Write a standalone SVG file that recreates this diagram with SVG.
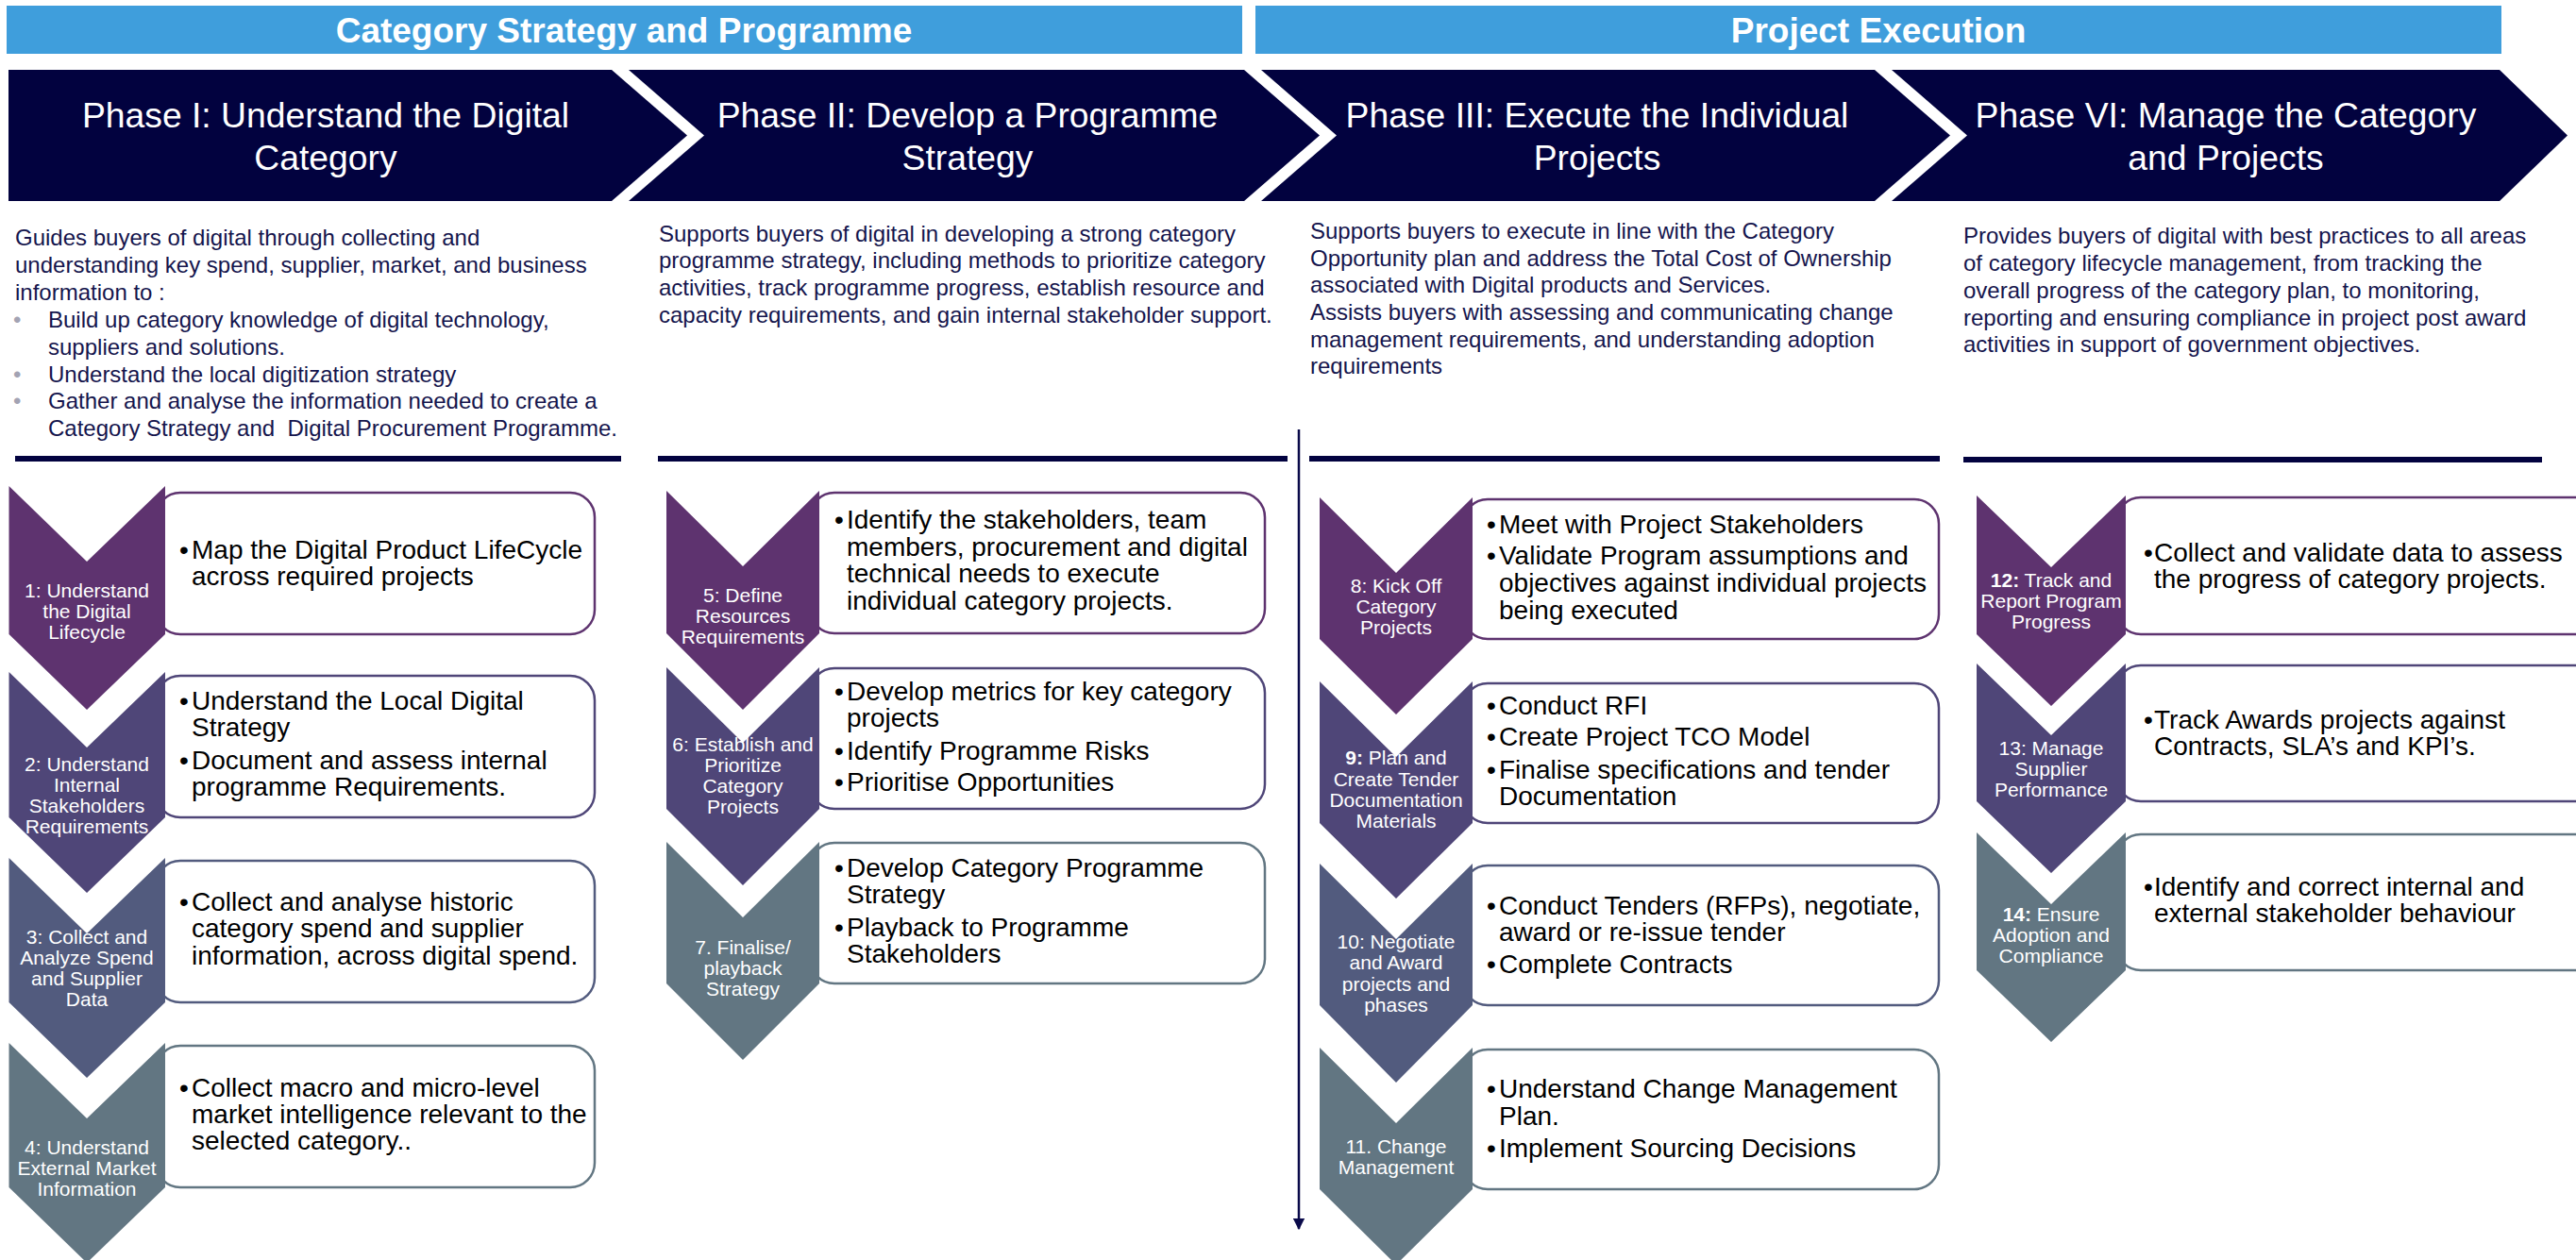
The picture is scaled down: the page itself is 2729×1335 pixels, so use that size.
<svg xmlns="http://www.w3.org/2000/svg" width="2729" height="1335" viewBox="0 0 2729 1335">
  <defs>
    <style>
      text { font-family: "Liberation Sans", Arial, sans-serif; }
      .band { fill: #3f9edc; }
      .band-t { fill: #ffffff; font-size: 37px; font-weight: bold; text-anchor: middle; }
      .phase { fill: #02023f; }
      .phase-t { fill: #ffffff; font-size: 37.3px; text-anchor: middle; }
      .desc { fill: #15154d; font-size: 24px; }
      .dot { fill: #a3a3b3; font-size: 24px; }
      .rule { fill: #02023f; }
      .lbl { fill: #ffffff; font-size: 21px; text-anchor: middle; }
      .bold { font-weight: bold; }
      .bx { fill: #000000; font-size: 28px; }
      .box { fill: #ffffff; stroke-width: 2.5; }
      .f1 { fill: #5e336f; } .s1 { stroke: #5e336f; }
      .f2 { fill: #4f4678; } .s2 { stroke: #4f4678; }
      .f3 { fill: #525b7e; } .s3 { stroke: #525b7e; }
      .f4 { fill: #627682; } .s4 { stroke: #627682; }
      .flow { stroke: #0a0a4a; stroke-width: 2.5; fill: none; }
    </style>
    <marker id="arrow" viewBox="0 0 10 10" refX="9" refY="5" markerWidth="5" markerHeight="5" orient="auto" markerUnits="strokeWidth">
      <path d="M0,0 L10,5 L0,10 Z" fill="#0a0a4a"/>
    </marker>
  </defs>

  <rect width="2729" height="1335" fill="#ffffff"/>

  <!-- Top bands -->
  <g id="band-strategy">
    <rect class="band" x="7" y="6" width="1309" height="51"/>
    <text class="band-t" x="661" y="45">Category Strategy and Programme</text>
  </g>
  <g id="band-execution">
    <rect class="band" x="1330" y="6" width="1320" height="51"/>
    <text class="band-t" x="1990" y="45">Project Execution</text>
  </g>

  <!-- Phase chevrons -->
  <g id="phase-1">
    <path class="phase" d="M9,74 L648,74 L728,143.5 L648,213 L9,213 Z"/>
    <text class="phase-t" x="345" y="135">Phase I: Understand the Digital</text>
    <text class="phase-t" x="345" y="180">Category</text>
  </g>
  <g id="phase-2">
    <path class="phase" d="M666,74 L1318,74 L1398,143.5 L1318,213 L666,213 L746,143.5 Z"/>
    <text class="phase-t" x="1025" y="135">Phase II: Develop a Programme</text>
    <text class="phase-t" x="1025" y="180">Strategy</text>
  </g>
  <g id="phase-3">
    <path class="phase" d="M1336,74 L1986,74 L2066,143.5 L1986,213 L1336,213 L1416,143.5 Z"/>
    <text class="phase-t" x="1692" y="135">Phase III: Execute the Individual</text>
    <text class="phase-t" x="1692" y="180">Projects</text>
  </g>
  <g id="phase-4">
    <path class="phase" d="M2004,74 L2648,74 L2720,143.5 L2648,213 L2004,213 L2084,143.5 Z"/>
    <text class="phase-t" x="2358" y="135">Phase VI: Manage the Category</text>
    <text class="phase-t" x="2358" y="180">and Projects</text>
  </g>

  <!-- Phase descriptions -->
  <g id="desc-1">
    <text class="desc" x="16" y="260">Guides buyers of digital through collecting and</text>
    <text class="desc" x="16" y="289">understanding key spend, supplier, market, and business</text>
    <text class="desc" x="16" y="318">information to :</text>
    <text class="dot" x="14" y="347">•</text>
    <text class="desc" x="51" y="347">Build up category knowledge of digital technology,</text>
    <text class="desc" x="51" y="376">suppliers and solutions.</text>
    <text class="dot" x="14" y="405">•</text>
    <text class="desc" x="51" y="405">Understand the local digitization strategy</text>
    <text class="dot" x="14" y="433">•</text>
    <text class="desc" x="51" y="433">Gather and analyse the information needed to create a</text>
    <text class="desc" x="51" y="462" xml:space="preserve">Category Strategy and  Digital Procurement Programme.</text>
    <rect class="rule" x="16" y="483" width="642" height="6"/>
  </g>
  <g id="desc-2">
    <text class="desc" x="698" y="256">Supports buyers of digital in developing a strong category</text>
    <text class="desc" x="698" y="284">programme strategy, including methods to prioritize category</text>
    <text class="desc" x="698" y="313">activities, track programme progress, establish resource and</text>
    <text class="desc" x="698" y="342">capacity requirements, and gain internal stakeholder support.</text>
    <rect class="rule" x="697" y="483" width="667" height="6"/>
  </g>
  <g id="desc-3">
    <text class="desc" x="1388" y="253">Supports buyers to execute in line with the Category</text>
    <text class="desc" x="1388" y="282">Opportunity plan and address the Total Cost of Ownership</text>
    <text class="desc" x="1388" y="310">associated with Digital products and Services.</text>
    <text class="desc" x="1388" y="339">Assists buyers with assessing and communicating change</text>
    <text class="desc" x="1388" y="368">management requirements, and understanding adoption</text>
    <text class="desc" x="1388" y="396">requirements</text>
    <rect class="rule" x="1387" y="483" width="668" height="6"/>
  </g>
  <g id="desc-4">
    <text class="desc" x="2080" y="258">Provides buyers of digital with best practices to all areas</text>
    <text class="desc" x="2080" y="287">of category lifecycle management, from tracking the</text>
    <text class="desc" x="2080" y="316">overall progress of the category plan, to monitoring,</text>
    <text class="desc" x="2080" y="345">reporting and ensuring compliance in project post award</text>
    <text class="desc" x="2080" y="373">activities in support of government objectives.</text>
    <rect class="rule" x="2080" y="484" width="613" height="6"/>
  </g>

  <!-- Connectors -->
  <g id="connectors">
    <line class="flow" x1="1376" y1="455" x2="1376" y2="1302" marker-end="url(#arrow)"/>
  </g>

  <!-- Column 1 steps -->
  <g id="step-1">
    <rect class="box s1" x="165" y="522" width="465" height="150" rx="26"/>
    <path class="f1" d="M9.5,515 L92,595 L175,515 L175,672 L92,752 L9.5,672 Z"/>
    <text class="lbl" x="92" y="633">1: Understand</text>
    <text class="lbl" x="92" y="655">the Digital</text>
    <text class="lbl" x="92" y="677">Lifecycle</text>
    <text class="bx" x="190" y="592">•</text>
    <text class="bx" x="203" y="592">Map the Digital Product LifeCycle</text>
    <text class="bx" x="203" y="620">across required projects</text>
  </g>
  <g id="step-2">
    <rect class="box s2" x="165" y="716" width="465" height="150" rx="26"/>
    <path class="f2" d="M9.5,712 L92,792 L175,712 L175,866 L92,946 L9.5,866 Z"/>
    <text class="lbl" x="92" y="817">2: Understand</text>
    <text class="lbl" x="92" y="839">Internal</text>
    <text class="lbl" x="92" y="861">Stakeholders</text>
    <text class="lbl" x="92" y="883">Requirements</text>
    <text class="bx" x="190" y="752">•</text>
    <text class="bx" x="203" y="752">Understand the Local Digital</text>
    <text class="bx" x="203" y="780">Strategy</text>
    <text class="bx" x="190" y="815">•</text>
    <text class="bx" x="203" y="815">Document and assess internal</text>
    <text class="bx" x="203" y="843">programme Requirements.</text>
  </g>
  <g id="step-3">
    <rect class="box s3" x="165" y="912" width="465" height="150" rx="26"/>
    <path class="f3" d="M9.5,909 L92,989 L175,909 L175,1062 L92,1142 L9.5,1062 Z"/>
    <text class="lbl" x="92" y="1000">3: Collect and</text>
    <text class="lbl" x="92" y="1022">Analyze Spend</text>
    <text class="lbl" x="92" y="1044">and Supplier</text>
    <text class="lbl" x="92" y="1066">Data</text>
    <text class="bx" x="190" y="965">•</text>
    <text class="bx" x="203" y="965">Collect and analyse historic</text>
    <text class="bx" x="203" y="993">category spend and supplier</text>
    <text class="bx" x="203" y="1022">information, across digital spend.</text>
  </g>
  <g id="step-4">
    <rect class="box s4" x="165" y="1108" width="465" height="150" rx="26"/>
    <path class="f4" d="M9.5,1105 L92,1185 L175,1105 L175,1258 L92,1338 L9.5,1258 Z"/>
    <text class="lbl" x="92" y="1223">4: Understand</text>
    <text class="lbl" x="92" y="1245">External Market</text>
    <text class="lbl" x="92" y="1267">Information</text>
    <text class="bx" x="190" y="1162">•</text>
    <text class="bx" x="203" y="1162">Collect macro and micro-level</text>
    <text class="bx" x="203" y="1190">market intelligence relevant to the</text>
    <text class="bx" x="203" y="1218">selected category..</text>
  </g>

  <!-- Column 2 steps -->
  <g id="step-5">
    <rect class="box s1" x="858" y="522" width="482" height="149" rx="26"/>
    <path class="f1" d="M706,520 L787,600 L868,520 L868,671 L787,752 L706,671 Z"/>
    <text class="lbl" x="787" y="638">5: Define</text>
    <text class="lbl" x="787" y="660">Resources</text>
    <text class="lbl" x="787" y="682">Requirements</text>
    <text class="bx" x="884" y="560">•</text>
    <text class="bx" x="897" y="560">Identify the stakeholders, team</text>
    <text class="bx" x="897" y="589">members, procurement and digital</text>
    <text class="bx" x="897" y="617">technical needs to execute</text>
    <text class="bx" x="897" y="646">individual category projects.</text>
  </g>
  <g id="step-6">
    <rect class="box s2" x="858" y="708" width="482" height="149" rx="26"/>
    <path class="f2" d="M706,707 L787,787 L868,707 L868,857 L787,938 L706,857 Z"/>
    <text class="lbl" x="787" y="796">6: Establish and</text>
    <text class="lbl" x="787" y="818">Prioritize</text>
    <text class="lbl" x="787" y="840">Category</text>
    <text class="lbl" x="787" y="862">Projects</text>
    <text class="bx" x="884" y="742">•</text>
    <text class="bx" x="897" y="742">Develop metrics for key category</text>
    <text class="bx" x="897" y="770">projects</text>
    <text class="bx" x="884" y="805">•</text>
    <text class="bx" x="897" y="805">Identify Programme Risks</text>
    <text class="bx" x="884" y="838">•</text>
    <text class="bx" x="897" y="838">Prioritise Opportunities</text>
  </g>
  <g id="step-7">
    <rect class="box s4" x="858" y="893" width="482" height="149" rx="26"/>
    <path class="f4" d="M706,892 L787,972 L868,892 L868,1042 L787,1123 L706,1042 Z"/>
    <text class="lbl" x="787" y="1011">7. Finalise/</text>
    <text class="lbl" x="787" y="1033">playback</text>
    <text class="lbl" x="787" y="1055">Strategy</text>
    <text class="bx" x="884" y="929">•</text>
    <text class="bx" x="897" y="929">Develop Category Programme</text>
    <text class="bx" x="897" y="957">Strategy</text>
    <text class="bx" x="884" y="992">•</text>
    <text class="bx" x="897" y="992">Playback to Programme</text>
    <text class="bx" x="897" y="1020">Stakeholders</text>
  </g>

  <!-- Column 3 steps -->
  <g id="step-8">
    <rect class="box s1" x="1550" y="529" width="504" height="148" rx="26"/>
    <path class="f1" d="M1398,527 L1479,607 L1560,527 L1560,677 L1479,757 L1398,677 Z"/>
    <text class="lbl" x="1479" y="628">8: Kick Off</text>
    <text class="lbl" x="1479" y="650">Category</text>
    <text class="lbl" x="1479" y="672">Projects</text>
    <text class="bx" x="1575" y="565">•</text>
    <text class="bx" x="1588" y="565">Meet with Project Stakeholders</text>
    <text class="bx" x="1575" y="598">•</text>
    <text class="bx" x="1588" y="598">Validate Program assumptions and</text>
    <text class="bx" x="1588" y="627">objectives against individual projects</text>
    <text class="bx" x="1588" y="656">being executed</text>
  </g>
  <g id="step-9">
    <rect class="box s2" x="1550" y="724" width="504" height="148" rx="26"/>
    <path class="f2" d="M1398,722 L1479,802 L1560,722 L1560,872 L1479,952 L1398,872 Z"/>
    <text class="lbl" x="1479" y="810"><tspan class="bold">9:</tspan> Plan and</text>
    <text class="lbl" x="1479" y="833">Create Tender</text>
    <text class="lbl" x="1479" y="855">Documentation</text>
    <text class="lbl" x="1479" y="877">Materials</text>
    <text class="bx" x="1575" y="757">•</text>
    <text class="bx" x="1588" y="757">Conduct RFI</text>
    <text class="bx" x="1575" y="790">•</text>
    <text class="bx" x="1588" y="790">Create Project TCO Model</text>
    <text class="bx" x="1575" y="825">•</text>
    <text class="bx" x="1588" y="825">Finalise specifications and tender</text>
    <text class="bx" x="1588" y="853">Documentation</text>
  </g>
  <g id="step-10">
    <rect class="box s3" x="1550" y="917" width="504" height="148" rx="26"/>
    <path class="f3" d="M1398,915 L1479,995 L1560,915 L1560,1065 L1479,1147 L1398,1065 Z"/>
    <text class="lbl" x="1479" y="1005">10: Negotiate</text>
    <text class="lbl" x="1479" y="1027">and Award</text>
    <text class="lbl" x="1479" y="1050">projects and</text>
    <text class="lbl" x="1479" y="1072">phases</text>
    <text class="bx" x="1575" y="969">•</text>
    <text class="bx" x="1588" y="969">Conduct Tenders (RFPs), negotiate,</text>
    <text class="bx" x="1588" y="997">award or re-issue tender</text>
    <text class="bx" x="1575" y="1031">•</text>
    <text class="bx" x="1588" y="1031">Complete Contracts</text>
  </g>
  <g id="step-11">
    <rect class="box s4" x="1550" y="1112" width="504" height="148" rx="26"/>
    <path class="f4" d="M1398,1110 L1479,1190 L1560,1110 L1560,1260 L1479,1340 L1398,1260 Z"/>
    <text class="lbl" x="1479" y="1222">11. Change</text>
    <text class="lbl" x="1479" y="1244">Management</text>
    <text class="bx" x="1575" y="1163">•</text>
    <text class="bx" x="1588" y="1163">Understand Change Management</text>
    <text class="bx" x="1588" y="1192">Plan.</text>
    <text class="bx" x="1575" y="1226">•</text>
    <text class="bx" x="1588" y="1226">Implement Sourcing Decisions</text>
  </g>

  <!-- Column 4 steps -->
  <g id="step-12">
    <rect class="box s1" x="2242" y="527" width="540" height="145" rx="26"/>
    <path class="f1" d="M2094,525 L2173,601 L2252,525 L2252,672 L2173,748 L2094,672 Z"/>
    <text class="lbl" x="2173" y="622"><tspan class="bold">12:</tspan> Track and</text>
    <text class="lbl" x="2173" y="644">Report Program</text>
    <text class="lbl" x="2173" y="666">Progress</text>
    <text class="bx" x="2271" y="595">•</text>
    <text class="bx" x="2282" y="595">Collect and validate data to assess</text>
    <text class="bx" x="2282" y="623">the progress of category projects.</text>
  </g>
  <g id="step-13">
    <rect class="box s2" x="2242" y="705" width="540" height="144" rx="26"/>
    <path class="f2" d="M2094,703 L2173,779 L2252,703 L2252,849 L2173,925 L2094,849 Z"/>
    <text class="lbl" x="2173" y="800">13: Manage</text>
    <text class="lbl" x="2173" y="822">Supplier</text>
    <text class="lbl" x="2173" y="844">Performance</text>
    <text class="bx" x="2271" y="772">•</text>
    <text class="bx" x="2282" y="772">Track Awards projects against</text>
    <text class="bx" x="2282" y="800">Contracts, SLA’s and KPI’s.</text>
  </g>
  <g id="step-14">
    <rect class="box s4" x="2242" y="884" width="540" height="144" rx="26"/>
    <path class="f4" d="M2094,882 L2173,958 L2252,882 L2252,1028 L2173,1104 L2094,1028 Z"/>
    <text class="lbl" x="2173" y="976"><tspan class="bold">14:</tspan> Ensure</text>
    <text class="lbl" x="2173" y="998">Adoption and</text>
    <text class="lbl" x="2173" y="1020">Compliance</text>
    <text class="bx" x="2271" y="949">•</text>
    <text class="bx" x="2282" y="949">Identify and correct internal and</text>
    <text class="bx" x="2282" y="977">external stakeholder behaviour</text>
  </g>
</svg>
